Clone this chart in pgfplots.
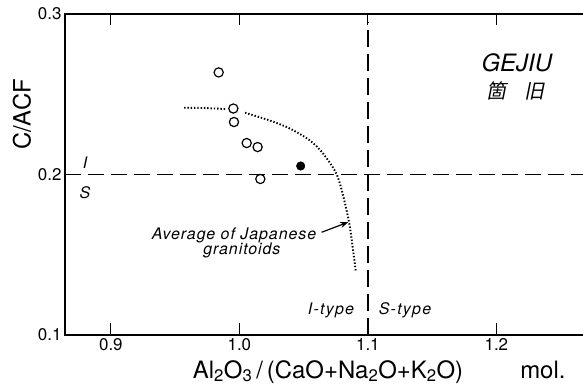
\documentclass[border=0pt]{standalone}
\usepackage{fontspec}
\setmainfont{TeX Gyre Heros}
\newfontfamily\cjk[FakeSlant=0.2]{Noto Sans CJK SC}
\usepackage{pgfplots}
\pgfplotsset{compat=1.18}
\usetikzlibrary{arrows.meta}
\begin{document}
\begin{tikzpicture}
\path[use as bounding box] (-65bp,-51bp) rectangle (518bp,335bp);
\begin{axis}[
  at={(0,0)}, anchor=south west,
  scale only axis, width=518bp, height=321bp,
  xmin=0.8643, xmax=1.2674, ymin=0.1, ymax=0.3,
  axis line style={draw=none},
  xtick={0.9,1.0,1.1,1.2}, ytick={0.1,0.2,0.3},
  tick align=inside,
  xtick pos=both, ytick pos=left,
  major tick length=11bp,
  tick style={draw=black, line width=1.1bp},
  /pgf/number format/fixed,
  /pgf/number format/fixed zerofill,
  /pgf/number format/precision=1,
  /pgf/number format/assume math mode=true,
  tick label style={font=\fontsize{17}{17}\selectfont},
  clip=false,
]
% frame: left, bottom, top (no right line)
\draw[line width=1.5bp, line cap=rect] (rel axis cs:1,1) -- (rel axis cs:0,1) -- (rel axis cs:0,0) -- (rel axis cs:1,0);
% x ticks (bottom and top, inward)
\addplot[line width=1.2bp, black] coordinates {(0.9,0.1) (0.9,0.1075)};
\addplot[line width=1.2bp, black] coordinates {(1.0,0.1) (1.0,0.1075)};
\addplot[line width=1.2bp, black] coordinates {(1.1,0.1) (1.1,0.1075)};
\addplot[line width=1.2bp, black] coordinates {(1.2,0.1) (1.2,0.1075)};
\addplot[line width=1.2bp, black] coordinates {(0.9,0.3) (0.9,0.2937)};
\addplot[line width=1.2bp, black] coordinates {(1.0,0.3) (1.0,0.2937)};
\addplot[line width=1.2bp, black] coordinates {(1.2,0.3) (1.2,0.2937)};
% reference lines
\addplot[line width=1.3bp, dash pattern=on 16bp off 7bp] coordinates {(0.8643,0.2) (1.2674,0.2)};
\addplot[line width=1.3bp, dash pattern=on 17bp off 7bp] coordinates {(1.1,0.1) (1.1,0.2949)};
% average of Japanese granitoids (dotted)
\addplot[smooth, line width=1.9bp, line cap=butt, dash pattern=on 1.4bp off 1.9bp] coordinates {(0.957,0.2416) (0.973,0.2414) (0.9889,0.2408)};
\addplot[smooth, line width=1.9bp, line cap=butt, dash pattern=on 1.4bp off 1.9bp] coordinates {(1.0044,0.2385) (1.0238,0.2336) (1.0396,0.2285) (1.0549,0.2212) (1.0653,0.2129) (1.0755,0.2005) (1.081,0.186) (1.0855,0.1695) (1.0882,0.1545) (1.0905,0.1402)};
% samples
\addplot[only marks, mark=*, mark size=4.6bp, mark options={draw=black, fill=white, line width=1.2bp}] coordinates {(0.9839,0.2636) (0.9953,0.2411) (0.9958,0.2327) (1.0057,0.2196) (1.0142,0.2171) (1.0163,0.1972)};
\addplot[only marks, mark=*, mark size=4.3bp, black] coordinates {(1.0477,0.2053)};
% arrow
\draw[-{Stealth[length=8bp,width=6bp]}, line width=1.2bp] (axis cs:1.064,0.164) -- (axis cs:1.0847,0.1703);
% texts
\node[font=\fontsize{16}{16}\selectfont\itshape\addfontfeature{LetterSpace=6}] at (axis cs:0.9958,0.162) {Average of Japanese};
\node[font=\fontsize{16}{16}\selectfont\itshape\addfontfeature{LetterSpace=6}] at (axis cs:1.002,0.1527) {granitoids};
\node[font=\fontsize{16}{16}\selectfont\itshape] at (axis cs:0.8799,0.2075) {I};
\node[font=\fontsize{16}{16}\selectfont\itshape] at (axis cs:0.8799,0.1888) {S};
\node[font=\fontsize{16}{16}\selectfont\itshape\addfontfeature{LetterSpace=8}] at (axis cs:1.0713,0.1153) {I-type};
\node[font=\fontsize{16}{16}\selectfont\itshape\addfontfeature{LetterSpace=8}] at (axis cs:1.1289,0.1153) {S-type};
\node[font=\fontsize{24}{24}\selectfont\itshape] at (axis cs:1.2159,0.2698) {GEJIU};
\node[font=\cjk\fontsize{20}{20}\selectfont] at (axis cs:1.2151,0.2523) {箇\hspace{0.9em}旧};
\node[rotate=90, font=\fontsize{24}{24}\selectfont] at (axis cs:0.8308,0.2374) {C/ACF};
\node[anchor=base, font=\fontsize{24}{24}\selectfont] at (axis cs:1.069,0.0732) {Al\textsubscript{2}O\textsubscript{3}\,/\,(CaO+Na\textsubscript{2}O+K\textsubscript{2}O)};
\node[anchor=base, font=\fontsize{24}{24}\selectfont] at (axis cs:1.2362,0.0732) {mol.};
\end{axis}
\end{tikzpicture}
\end{document}
